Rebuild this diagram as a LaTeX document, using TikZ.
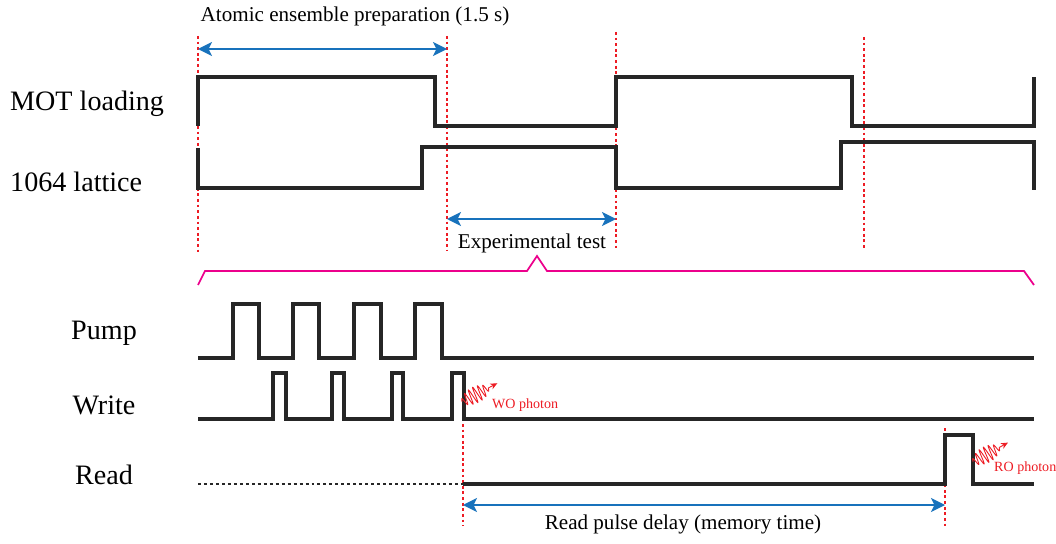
\documentclass[tikz,border=0pt]{standalone}
\usepackage{fontspec}
\setmainfont{Liberation Serif}
\usetikzlibrary{arrows.meta}
\definecolor{tickred}{RGB}{237,28,36}
\definecolor{spanblue}{RGB}{24,114,188}
\definecolor{bracemag}{RGB}{236,0,140}

\begin{document}
\begin{tikzpicture}[x=0.02cm,y=-0.02cm,
  signal/.style={line width=1.9pt,black!85},
  marker/.style={tickred,line width=0.9pt,dash pattern=on 1.6pt off 1.6pt},
  span/.style={spanblue,line width=0.9pt,{Stealth[length=8pt,width=8pt,inset=2pt]}-{Stealth[length=8pt,width=8pt,inset=2pt]}},
  photon/.style={tickred,line width=0.5pt},
  lbl/.style={font=\fontsize{16}{19}\selectfont},
  note/.style={font=\fontsize{12}{14}\selectfont},
  tag/.style={tickred,font=\fontsize{8}{9}\selectfont}]
\useasboundingbox (0,0) rectangle (1056,544);
% channel names
\node[lbl,anchor=west] (lblMOT) at (4,104) {MOT loading};
\node[lbl,anchor=west] (lblLattice) at (4,182) {1064 lattice};
\node[lbl] (lblPump) at (104,333) {Pump};
\node[lbl] (lblWrite) at (104,405) {Write};
\node[lbl] (lblRead) at (104,475) {Read};
% time markers
\coordinate (t0) at (198,36);   \coordinate (t0b) at (198,252);
\coordinate (t1) at (447,36);   \coordinate (t1b) at (447,250);
\coordinate (t2) at (616,32);   \coordinate (t2b) at (616,248);
\coordinate (t3) at (864,37);   \coordinate (t3b) at (864,250);
\coordinate (w0) at (463,424);  \coordinate (w0b) at (463,526);
\coordinate (r0) at (945,428);  \coordinate (r0b) at (945,526);
\foreach \a in {t0,t1,t2,t3,w0,r0}
  \draw[marker] (\a) -- (\a b);
% MOT and lattice
\draw[signal] (198,126) -- (198,77) -- (435,77) -- (435,126) -- (616,126) -- (616,77)
  -- (852,77) -- (852,126) -- (1034,126) -- (1034,77);
\draw[signal] (198,148) -- (198,188) -- (422,188) -- (422,147) -- (616,147) -- (616,188)
  -- (841,188) -- (841,142) -- (1034,142) -- (1034,190);
% spans
\coordinate (prepL) at (198,49);  \coordinate (prepR) at (447,49);
\coordinate (testL) at (447,219); \coordinate (testR) at (616,219);
\coordinate (delL) at (463,505);  \coordinate (delR) at (945,505);
\draw[span] (prepL) -- (prepR);
\draw[span] (testL) -- (testR);
\draw[span] (delL) -- (delR);
\node[note] (txtPrep) at (355,16) {Atomic ensemble preparation (1.5 s)};
\node[note] (txtTest) at (532,243) {Experimental test};
\node[note] (txtDelay) at (683,524) {Read pulse delay (memory time)};
% zoom bracket
\draw[bracemag,line width=1pt] (198,285) -- (205,271) -- (527,271) -- (537,256) -- (547,271)
  -- (1024,271) -- (1034,285);
% pulse trains
\draw[signal] (198,358) foreach \a/\b in {233/259,293/319,354/381,415/442}
  { -- (\a,358) -- (\a,304) -- (\b,304) -- (\b,358) } -- (1034,358);
\draw[signal] (198,419) foreach \a/\b in {273/286,332/344,392/403,452/464}
  { -- (\a,419) -- (\a,373) -- (\b,373) -- (\b,419) } -- (1034,419);
\draw[signal,line width=1.6pt,dash pattern=on 1.7pt off 1.7pt] (198,484) -- (463,484);
\draw[signal] (463,484) -- (945,484) -- (945,435) -- (973,435) -- (973,484) -- (1034,484);
% photons
\begin{scope}[shift={(462,402)},rotate=28]
\draw[photon,-{Stealth[length=4pt,width=3.5pt]}] plot[domain=0:30,samples=150,smooth]
  (\x,{-8*sin(6*\x)^0.5*sin(\x*360/5)}) -- (40,0);
\end{scope}
\begin{scope}[shift={(973,462)},rotate=29]
\draw[photon,-{Stealth[length=4pt,width=3.5pt]}] plot[domain=0:30,samples=150,smooth]
  (\x,{-8*sin(6*\x)^0.5*sin(\x*360/5)}) -- (40,0);
\end{scope}
\node[tag,anchor=west] (txtWO) at (486,405) {WO photon};
\node[tag,anchor=west] (txtRO) at (988,468) {RO photon};
\end{tikzpicture}
\end{document}
